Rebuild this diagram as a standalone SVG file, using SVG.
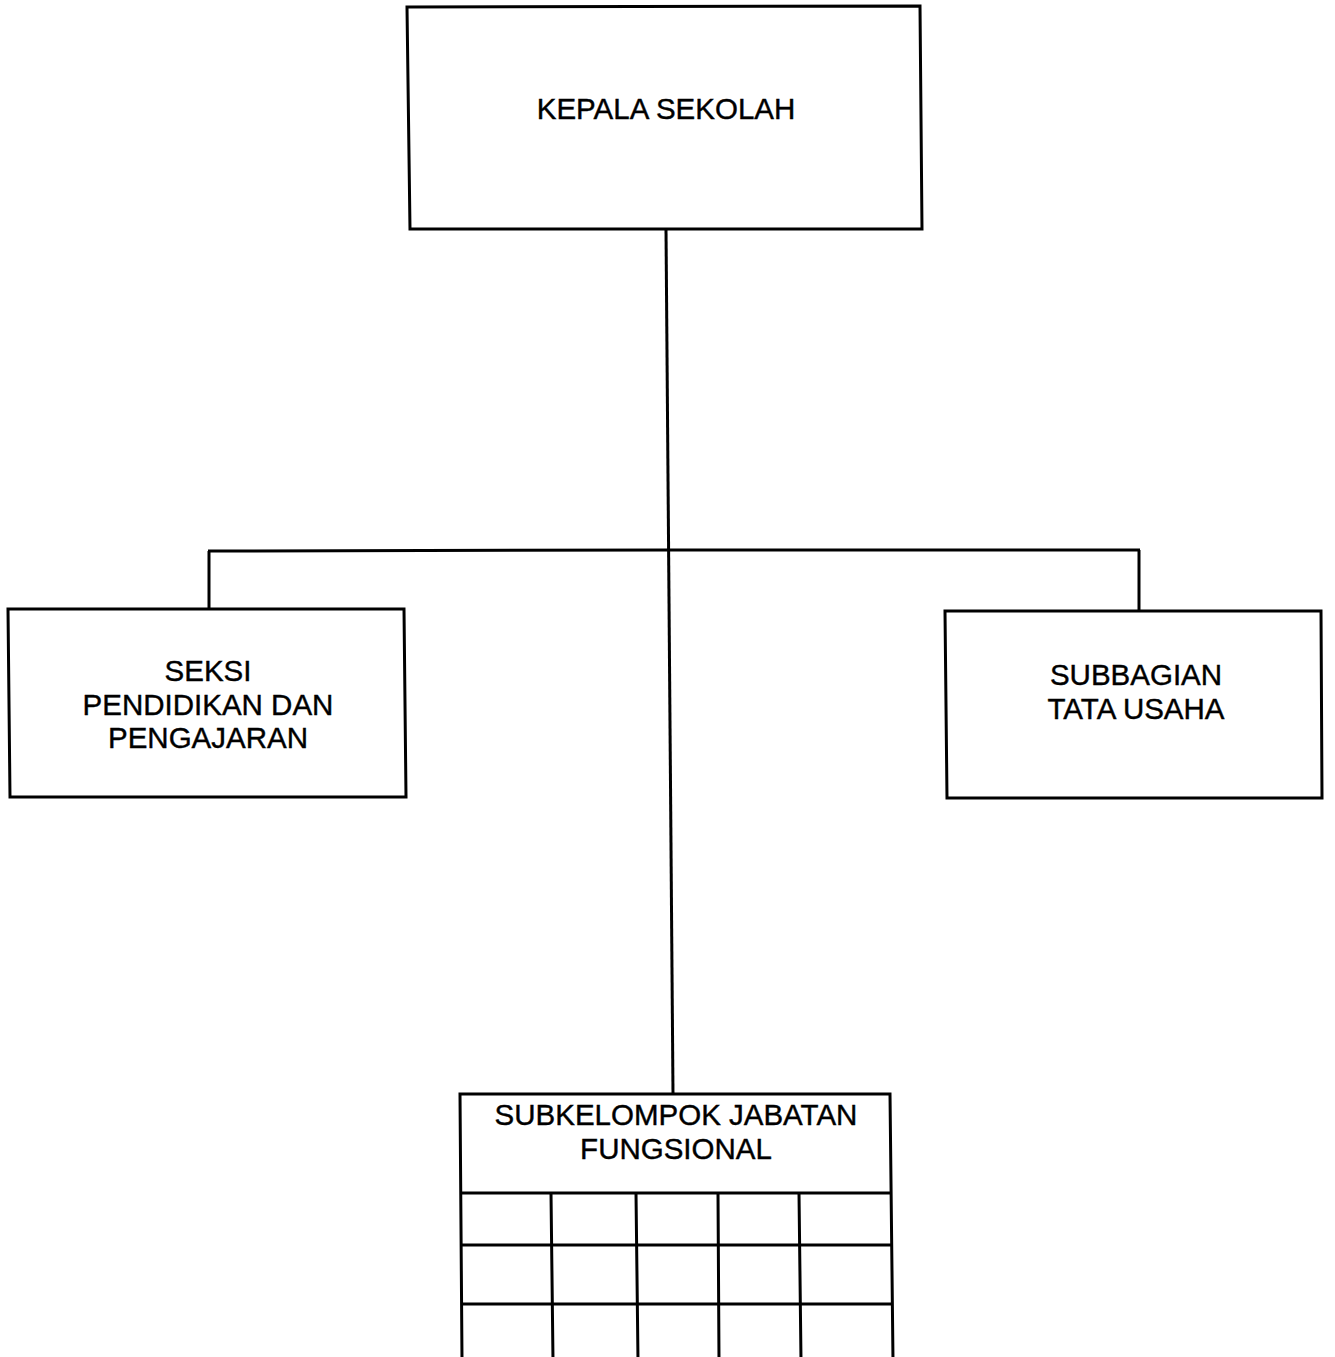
<svg xmlns="http://www.w3.org/2000/svg" width="1335" height="1357" viewBox="0 0 1335 1357">
<style>
.box{fill:#fff;stroke:#000;stroke-width:3}
.ln{fill:none;stroke:#000;stroke-width:3}
.t{font-family:"Liberation Sans",Arial,sans-serif;font-size:29.5px;fill:#000;stroke:#000;stroke-width:0.4;text-anchor:middle}
</style>
<rect width="1335" height="1357" fill="#fff"/>
<g id="connectors">
<path class="ln" d="M666 229 L673 1093"/>
<path class="ln" d="M208 551 L669 550 L1140 550"/>
<path class="ln" d="M209 551 L209 609"/>
<path class="ln" d="M1139 550 L1139 611"/>
</g>
<g id="kepala">
<polygon class="box" points="407,7 920,6 922,229 410,229"/>
<text class="t" x="666" y="119">KEPALA SEKOLAH</text>
</g>
<g id="seksi">
<polygon class="box" points="8,609 404,609 406,797 10,797"/>
<text class="t" x="208" y="681">SEKSI</text>
<text class="t" x="208" y="715">PENDIDIKAN DAN</text>
<text class="t" x="208" y="748">PENGAJARAN</text>
</g>
<g id="subbagian">
<polygon class="box" points="945,611 1321,611 1322,798 947,798"/>
<text class="t" x="1136" y="685">SUBBAGIAN</text>
<text class="t" x="1136" y="719">TATA USAHA</text>
</g>
<g id="subkelompok">
<path class="box" d="M462 1360 L460 1094 L890 1094 L893 1360"/>
<path class="ln" d="M461 1193 L891 1193 M462 1245 L892 1245 M462 1304 L892 1304"/>
<path class="ln" d="M551 1193 L553 1360 M636 1193 L638 1360 M718 1193 L719 1360 M799 1193 L801 1360"/>
<text class="t" x="676" y="1125">SUBKELOMPOK JABATAN</text>
<text class="t" x="676" y="1159">FUNGSIONAL</text>
</g>
</svg>
